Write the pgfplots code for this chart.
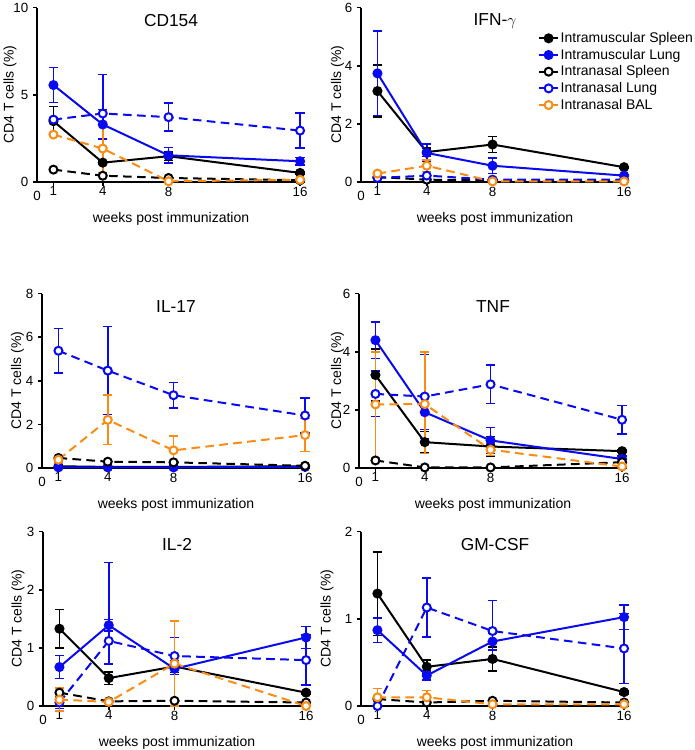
\documentclass[border=0pt]{standalone}
\usepackage{pgfplots}
\pgfplotsset{compat=1.18}
\usepackage{fontspec}
\setmainfont{Liberation Sans}
\definecolor{orng}{RGB}{250,140,20}
\definecolor{blu}{RGB}{10,10,240}
\newcommand{\ptitle}[1]{\node[font=\fontsize{13}{15}\selectfont, anchor=center] at (rel axis cs:0.5,0.925) {#1};}
\pgfplotsset{
  panel/.style={scale only axis, width=201pt, height=130.75pt,
    axis lines=left, axis line style={-, line width=1.5pt},
    xmin=0, xmax=16.3, ymin=0, xtick={1,4,8,16},
    tick align=outside, major tick length=3pt,
    every tick/.style={black, line width=1.2pt},
    extra x ticks={0}, extra x tick labels={0},
    extra x tick style={major tick length=0pt, xticklabel style={yshift=-6pt}},
    xticklabel style={yshift=3pt},
    tick label style={font=\fontsize{10}{12}\selectfont},
    label style={font=\fontsize{10.5}{12}\selectfont},
    xlabel={weeks post immunization}, ylabel={CD4 T cells (\%)},
    xlabel style={at={(axis description cs:0.5,0)}, anchor=center, yshift=-28pt},
    clip=false, /pgf/number format/assume math mode=true,
    legend image code/.code={\draw[mark repeat=2,mark phase=2,#1,solid] plot coordinates {(0cm,0cm) (0.25cm,0cm) (0.5cm,0cm)};},
  },
  yl/.style={ylabel style={at={(axis description cs:#1,0.5)}, anchor=center}},
  eb/.style={error bars/y dir=both, error bars/y explicit,
    error bars/error bar style={line width=1.2pt, solid},
    error bars/error mark options={rotate=90, mark size=3.5pt, line width=1.2pt, solid}},
  ims/.style={black, line width=1.5pt, solid, mark=*, mark size=3pt, mark options={solid}, eb},
  iml/.style={blu, line width=1.5pt, solid, mark=*, mark size=3pt, mark options={solid}, eb},
  ins/.style={black, line width=1.5pt, dash pattern=on 6.5pt off 4pt, mark=*, mark size=3pt, mark options={solid, fill=white}, eb},
  inl/.style={blu, line width=1.5pt, dash pattern=on 6.5pt off 4pt, mark=*, mark size=3pt, mark options={solid, fill=white}, eb},
  inb/.style={orng, line width=1.5pt, dash pattern=on 6.5pt off 4pt, mark=*, mark size=3pt, mark options={solid, fill=white}, eb},
}
\begin{document}
\begin{tikzpicture}
\useasboundingbox (0,0) rectangle (520.5pt,-562.5pt);
% CD154
\begin{axis}[panel, yl=-0.1007, at={(27.75pt,-136.5pt)}, anchor=origin, ymax=10, ytick={0,5,10}]
\addplot[ims] coordinates {(1,3.49)+-(0,0.85) (4,1.11)+-(0,0.1) (8,1.48)+-(0,0.25) (16,0.52)+-(0,0.05)};
\addplot[iml] coordinates {(1,5.56)+-(0,1.0) (4,3.3)+-(0,0.85) (8,1.53)+-(0,0.45) (16,1.19)+-(0,0.22)};
\addplot[ins] coordinates {(1,0.71) (4,0.36) (8,0.23) (16,0.1)};
\addplot[inl] coordinates {(1,3.58)+-(0,0.1) (4,3.93)+=(0,2.24)-=(0,1.5) (8,3.72)+-(0,0.8) (16,2.95)+-(0,1.0)};
\addplot[inb] coordinates {(1,2.72)+-(0,0.1) (4,1.92)+-(0,1.4) (8,0.04) (16,0.13)};
\ptitle{CD154}
\end{axis}
% IFN-gamma
\begin{axis}[panel, yl=-0.0877, at={(270.75pt,-136.5pt)}, anchor=origin, ymax=6, ytick={0,2,4,6},
  legend style={at={(axis description cs:0.645,0.885)}, anchor=north west, draw=none, fill=none,
    font=\fontsize{10.5}{12}\selectfont, nodes={inner sep=1.2pt}, row sep=1pt},
  legend cell align=left]
\addplot[ims] coordinates {(1,3.13)+-(0,0.9) (4,1.03)+-(0,0.15) (8,1.29)+-(0,0.28) (16,0.51)+-(0,0.03)};
\addplot[iml] coordinates {(1,3.74)+-(0,1.45) (4,1.0)+-(0,0.3) (8,0.56)+-(0,0.27) (16,0.22)+-(0,0.03)};
\addplot[ins] coordinates {(1,0.17) (4,0.08) (8,0.06) (16,0.05)};
\addplot[inl] coordinates {(1,0.14) (4,0.22) (8,0.08) (16,0.08)};
\addplot[inb] coordinates {(1,0.29) (4,0.56)+-(0,0.2) (8,0.02) (16,0.02)};
\legend{Intramuscular Spleen, Intramuscular Lung, Intranasal Spleen, Intranasal Lung, Intranasal BAL}
\ptitle{IFN-$\gamma$}
\end{axis}
% IL-17
\begin{axis}[panel, yl=-0.0914, at={(31.5pt,-351pt)}, anchor=origin, ymax=8, ytick={0,2,4,6,8}]
\addplot[ims] coordinates {(1,0.08) (4,0.05) (8,0.05) (16,0.08)};
\addplot[iml] coordinates {(1,0.03) (4,0.03) (8,0.03) (16,0.05)};
\addplot[ins] coordinates {(1,0.46) (4,0.29) (8,0.26) (16,0.1)};
\addplot[inl] coordinates {(1,5.38)+-(0,1.03) (4,4.47)+-(0,2.02) (8,3.34)+-(0,0.58) (16,2.41)+-(0,0.8)};
\addplot[inb] coordinates {(1,0.38)+-(0,0.1) (4,2.21)+-(0,1.13) (8,0.81)+-(0,0.67) (16,1.51)+-(0,0.76)};
\ptitle{IL-17}
\end{axis}
% TNF
\begin{axis}[panel, yl=-0.0802, at={(269.25pt,-351pt)}, anchor=origin, ymax=6, ytick={0,2,4,6}]
\addplot[ims] coordinates {(1,3.2)+-(0,0.9) (4,0.89)+-(0,0.36) (8,0.74)+-(0,0.35) (16,0.58)+-(0,0.03)};
\addplot[iml] coordinates {(1,4.4)+-(0,0.63) (4,1.92)+-(0,0.6) (8,0.95)+-(0,0.45) (16,0.31)+-(0,0.1)};
\addplot[ins] coordinates {(1,0.26) (4,0.02) (8,0.02) (16,0.2)};
\addplot[inl] coordinates {(1,2.55)+-(0,0.78) (4,2.46)+-(0,1.45) (8,2.88)+-(0,0.66) (16,1.66)+-(0,0.49)};
\addplot[inb] coordinates {(1,2.19)+=(0,1.8)-=(0,1.85) (4,2.2)+=(0,1.8)-=(0,1.7) (8,0.63)+-(0,0.2) (16,0.05)};
\ptitle{TNF}
\end{axis}
% IL-2
\begin{axis}[panel, yl=-0.0933, at={(32.25pt,-529.5pt)}, anchor=origin, ymax=3, ytick={0,1,2,3}]
\addplot[ims] coordinates {(1,1.33)+-(0,0.33) (4,0.48)+-(0,0.11) (8,0.68)+-(0,0.1) (16,0.23)+-(0,0.02)};
\addplot[iml] coordinates {(1,0.67)+-(0,0.2) (4,1.39)+-(0,0.1) (8,0.64)+-(0,0.1) (16,1.18)+-(0,0.19)};
\addplot[ins] coordinates {(1,0.23) (4,0.08) (8,0.09) (16,0.06)};
\addplot[inl] coordinates {(1,0.06)+-(0,0.1) (4,1.12)+=(0,1.35)-=(0,0.4) (8,0.86)+-(0,0.32) (16,0.79)+-(0,0.43)};
\addplot[inb] coordinates {(1,0.11)+-(0,0.2) (4,0.07) (8,0.73)+-(0,0.73) (16,0.0)};
\ptitle{IL-2}
\end{axis}
% GM-CSF
\begin{axis}[panel, yl=-0.1269, at={(270.75pt,-529.5pt)}, anchor=origin, ymax=2, ytick={0,1,2}]
\addplot[ims] coordinates {(1,1.29)+-(0,0.48) (4,0.45)+-(0,0.08) (8,0.54)+-(0,0.14) (16,0.16)+-(0,0.02)};
\addplot[iml] coordinates {(1,0.87)+-(0,0.14) (4,0.35)+-(0,0.05) (8,0.74)+-(0,0.1) (16,1.02)+-(0,0.14)};
\addplot[ins] coordinates {(1,0.08) (4,0.04) (8,0.06) (16,0.04)};
\addplot[inl] coordinates {(1,0.0) (4,1.13)+-(0,0.34) (8,0.86)+-(0,0.35) (16,0.66)+-(0,0.4)};
\addplot[inb] coordinates {(1,0.1)+-(0,0.1) (4,0.1)+-(0,0.08) (8,0.02) (16,0.02)};
\ptitle{GM-CSF}
\end{axis}
\end{tikzpicture}
\end{document}
